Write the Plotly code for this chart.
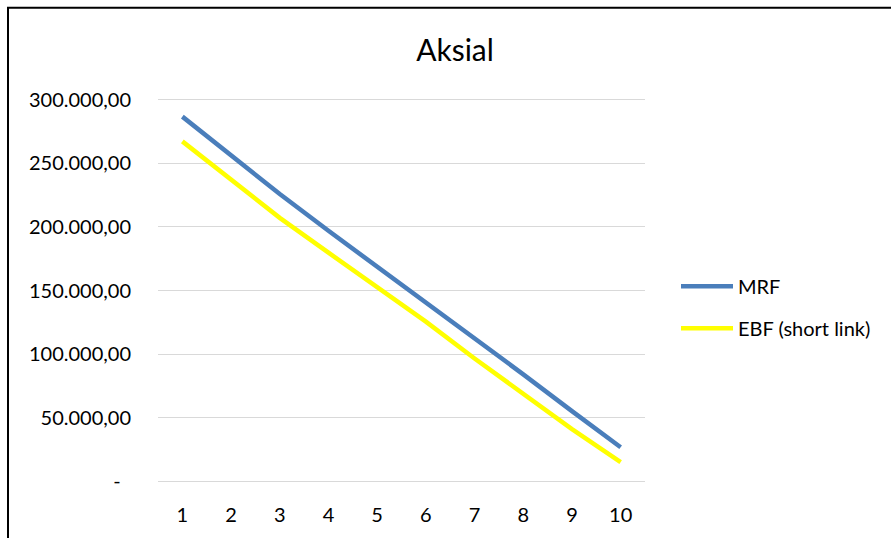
import plotly.graph_objects as go

# Storey index along the x axis
categories = [1, 2, 3, 4, 5, 6, 7, 8, 9, 10]

# Axial force per storey
mrf = [286900, 256000, 226000, 197000, 169000, 141000, 113000, 84000, 55000, 26600]
ebf_short_link = [267400, 237000, 207200, 179800, 152600, 125500, 96500, 68200, 40900, 14800]

series_names = ["MRF", "EBF (short link)"]

y_tick_values = [0, 50000, 100000, 150000, 200000, 250000, 300000]
y_tick_labels = ["-\u00a0\u00a0", "50.000,00", "100.000,00", "150.000,00", "200.000,00", "250.000,00", "300.000,00"]

W, H = 891, 538
# plot box is 2px larger on top and bottom so the edge gridlines are not clipped
ML, MR, MT, MB = 158, 246, 98, 52
PW, PH = W - ML - MR, H - MT - MB
Y_PAD = 1562.5

FONT = "Lato, 'Open Sans', sans-serif"
TXT = 20

fig = go.Figure()
fig.add_trace(go.Scatter(
    x=categories, y=mrf, mode="lines", name=series_names[0],
    line=dict(color="#4A7EBB", width=4.5), legendgroup="a",
))
fig.add_trace(go.Scatter(
    x=categories, y=ebf_short_link, mode="lines", name=series_names[1],
    line=dict(color="#FFFF00", width=4.5), legendgroup="b",
))

# Chart frame, open to the right and bottom edges of the page
def px_to_paper_x(px):
    return (px - ML) / PW

def px_to_paper_y(py):
    return (H - MB - py) / PH

fig.add_shape(
    type="rect", xref="paper", yref="paper",
    x0=px_to_paper_x(8), x1=px_to_paper_x(W + 20),
    y0=px_to_paper_y(H + 20), y1=px_to_paper_y(7),
    line=dict(color="#000000", width=2), fillcolor="rgba(0,0,0,0)", layer="above",
)

fig.update_layout(
    width=W, height=H,
    margin=dict(l=ML, r=MR, t=MT, b=MB),
    paper_bgcolor="white", plot_bgcolor="white",
    font=dict(family=FONT, size=TXT, color="#000000"),
    title=dict(text="Aksial", x=455 / W, xref="container", xanchor="center",
               y=1 - 50 / H, yref="container", yanchor="middle",
               font=dict(family=FONT, size=30, color="#000000")),
    showlegend=True,
    legend=dict(
        x=px_to_paper_x(676), xanchor="left",
        y=px_to_paper_y(268), yanchor="top",
        font=dict(family=FONT, size=TXT, color="#000000"),
        itemwidth=52, traceorder="grouped", tracegroupgap=13,
        bgcolor="rgba(0,0,0,0)",
    ),
    xaxis=dict(
        type="linear", range=[0.5, 10.5],
        tickmode="array", tickvals=categories, ticktext=[str(c) for c in categories],
        showgrid=False, zeroline=False, showline=False, ticks="",
        ticklabelstandoff=18,
        tickfont=dict(family=FONT, size=TXT, color="#000000"),
    ),
    yaxis=dict(
        range=[-Y_PAD, 300000 + Y_PAD],
        tickmode="array", tickvals=y_tick_values, ticktext=y_tick_labels,
        showgrid=True, gridcolor="#D9D9D9", gridwidth=1.3,
        zeroline=False, showline=False, ticks="",
        ticklabelstandoff=26,
        tickfont=dict(family=FONT, size=TXT, color="#000000"),
    ),
)

fig.write_html("out.html")
